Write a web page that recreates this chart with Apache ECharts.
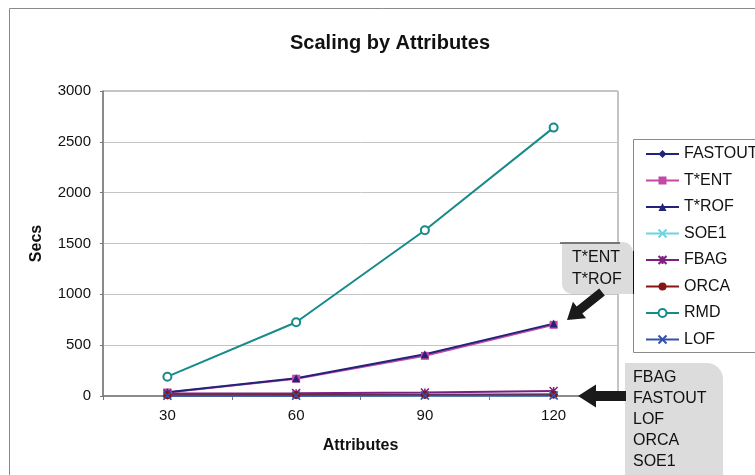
<!DOCTYPE html>
<html><head><meta charset="utf-8">
<script src="https://cdn.jsdelivr.net/npm/echarts@6/dist/echarts.min.js"></script>
<style>html,body{margin:0;padding:0;background:#fff}#c{width:755px;height:475px}</style>
</head><body><div id="c"></div>
<script>
var categories = ['30', '60', '90', '120'];
var seriesNames = ['FASTOUT', 'T*ENT', 'T*ROF', 'SOE1', 'FBAG', 'ORCA', 'RMD', 'LOF'];
var fastout = [5, 8, 10, 12];
var tent = [35, 170, 395, 700];
var trof = [38, 175, 410, 712];
var soe1 = [3, 4, 5, 6];
var fbag = [25, 28, 35, 50];
var orca = [8, 10, 12, 15];
var rmd = [190, 725, 1630, 2640];
var lof = [2, 3, 4, 5];
var yTicks = [0, 500, 1000, 1500, 2000, 2500, 3000];
var calloutTop = ['T*ENT', 'T*ROF'];
var calloutBottom = ['FBAG', 'FASTOUT', 'LOF', 'ORCA', 'SOE1'];

var values = [fastout, tent, trof, soe1, fbag, orca, rmd, lof];
var colors = ['#23237a', '#c24aa6', '#23237a', '#6fd3e0', '#7c1f80', '#861616', '#178a8a', '#3550a8'];
var symbols = ['diamond', 'rect', 'triangle', 'path://M0,0L10,10M10,0L0,10',
  'path://M5,0L5,10M0,0L10,10M10,0L0,10', 'circle', 'emptyCircle', 'path://M0,0L10,10M10,0L0,10'];
var strokeSym = [false, false, false, true, true, false, false, true];

var series = seriesNames.map(function (n, i) {
  return {
    name: n, type: 'line', data: values[i], symbol: symbols[i], symbolSize: 8,
    lineStyle: { color: colors[i], width: 2 },
    itemStyle: strokeSym[i] ? { color: colors[i], borderColor: colors[i], borderWidth: 1.5 } : { color: colors[i] },
    animation: false
  };
});

function arrow(x1, y1, x2, y2, sw, hw, hl) {
  var dx = x2 - x1, dy = y2 - y1, L = Math.sqrt(dx * dx + dy * dy);
  var ux = dx / L, uy = dy / L, px = -uy, py = ux;
  var b = L - hl;
  function p(a, s) { return [x1 + ux * a + px * s, y1 + uy * a + py * s]; }
  return [p(0, -sw), p(b, -sw), p(b, -hw), p(L, 0), p(b, hw), p(b, sw), p(0, sw)];
}

var font = '"Liberation Sans", Arial, sans-serif';
var graphics = [
  { type: 'rect', shape: { x: 9.5, y: 8.5, width: 800, height: 500 }, style: { fill: 'none', stroke: '#8a8a8a', lineWidth: 1 }, z: -10 },
  { type: 'rect', shape: { x: 633.5, y: 139.5, width: 140, height: 213 }, style: { fill: '#fff', stroke: '#8a8a8a', lineWidth: 1 }, z: 1 },
  // top callout
  { type: 'rect', shape: { x: 562, y: 242, width: 71, height: 52, r: [0, 10, 0, 10] }, style: { fill: '#dcdcdc' }, z: 5 },
  { type: 'line', shape: { x1: 560, y1: 243, x2: 620, y2: 243 }, style: { stroke: '#111', lineWidth: 1 }, z: 6 },
  { type: 'line', shape: { x1: 633.5, y1: 251, x2: 633.5, y2: 294 }, style: { stroke: '#111', lineWidth: 1 }, z: 6 },
  { type: 'polygon', shape: { points: arrow(602, 292, 567, 320, 4.5, 10.5, 16) }, style: { fill: '#1a1a1a' }, z: 6 }
];
calloutTop.forEach(function (t, i) {
  graphics.push({ type: 'text', x: 572, y: 258 + i * 22, style: { text: t, font: '16px ' + font, fill: '#111', verticalAlign: 'middle' }, z: 7 });
});
graphics.push({ type: 'rect', shape: { x: 625, y: 363, width: 98, height: 130, r: [0, 16, 0, 12] }, style: { fill: '#dcdcdc' }, z: 5 });
graphics.push({ type: 'polygon', shape: { points: arrow(626, 396, 578, 396, 5, 11.5, 18) }, style: { fill: '#1a1a1a' }, z: 6 });
calloutBottom.forEach(function (t, i) {
  graphics.push({ type: 'text', x: 633, y: 378 + i * 21, style: { text: t, font: '16px ' + font, fill: '#111', verticalAlign: 'middle' }, z: 7 });
});

var chart = echarts.init(document.getElementById('c'), null, { renderer: 'canvas' });
chart.setOption({
  animation: false,
  backgroundColor: '#fff',
  title: { text: 'Scaling by Attributes', left: 385, top: 28, textAlign: 'center',
    textStyle: { fontFamily: font, fontWeight: 'bold', fontSize: 20, color: '#111' } },
  grid: { left: 103, right: 137, top: 91, bottom: 79, show: true, borderColor: '#8a8a8a', borderWidth: 1, backgroundColor: 'transparent' },
  legend: {
    orient: 'vertical', left: 640, top: 141, itemWidth: 33, itemHeight: 10, itemGap: 10.5, z: 3,
    data: seriesNames,
    textStyle: { fontFamily: font, fontSize: 16, color: '#111', lineHeight: 16 }
  },
  xAxis: {
    type: 'category', data: categories, boundaryGap: true,
    name: 'Attributes', nameLocation: 'middle', nameGap: 42,
    nameTextStyle: { fontFamily: font, fontWeight: 'bold', fontSize: 16, color: '#111' },
    axisLine: { lineStyle: { color: '#777', width: 1.5 } },
    axisTick: { show: true, length: 4, lineStyle: { color: '#777' } },
    axisLabel: { fontFamily: font, fontSize: 15, color: '#111', margin: 12 },
    splitLine: { show: false }
  },
  yAxis: {
    type: 'value', min: 0, max: 3000, interval: 500,
    name: 'Secs', nameLocation: 'middle', nameGap: 58, nameRotate: 90,
    nameTextStyle: { fontFamily: font, fontWeight: 'bold', fontSize: 16, color: '#111' },
    axisLine: { show: true, lineStyle: { color: '#777', width: 1.5 } },
    axisTick: { show: true, length: 3, lineStyle: { color: '#777' } },
    axisLabel: { fontFamily: font, fontSize: 15, color: '#111', margin: 12,
      formatter: function (v) { return yTicks.indexOf(v) >= 0 ? String(v) : ''; } },
    splitLine: { show: true, lineStyle: { color: '#c4c4c4', width: 1 } }
  },
  series: series,
  graphic: graphics
});
</script></body></html>
